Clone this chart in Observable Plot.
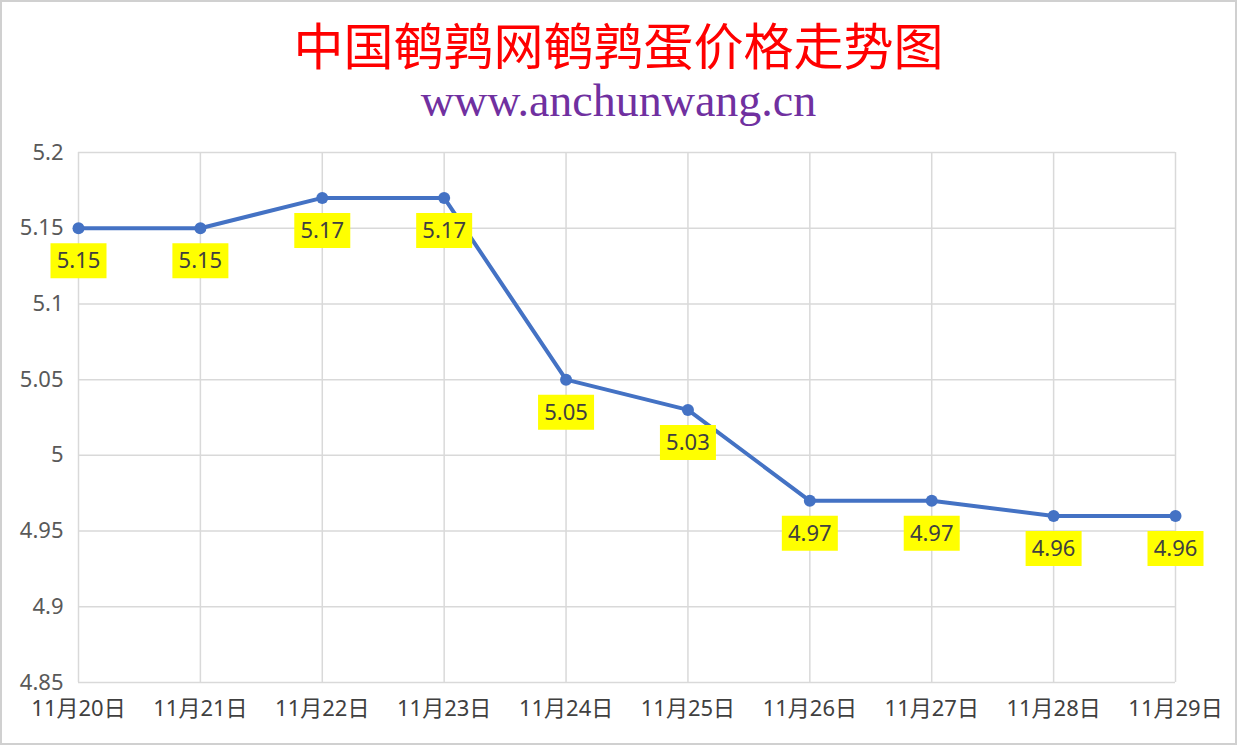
<!DOCTYPE html>
<html><head><meta charset="utf-8">
<script src="https://cdn.jsdelivr.net/npm/d3@7"></script>
<script src="https://cdn.jsdelivr.net/npm/@observablehq/plot@0.6"></script>
<style>
html,body{margin:0;padding:0;background:#fff;}
#wrap{position:relative;width:1237px;height:745px;box-sizing:border-box;border:2px solid #d0d0d0;background:#fff;overflow:hidden;}
#title{position:absolute;left:0;width:100%;top:13px;text-align:center;color:#ff0000;font-family:"Noto Sans CJK SC",serif;font-size:50px;line-height:56px;height:56px;}
#sub{position:absolute;left:0;width:100%;top:75px;text-align:center;color:#7030a0;font-family:"Liberation Serif","DejaVu Serif",serif;font-size:46px;line-height:48px;height:48px;}
#chart{position:absolute;left:-2px;top:124px;width:1237px;}
#chart svg{max-width:none;}
</style></head>
<body>
<div id="wrap">
<div id="title">中国鹌鹑网鹌鹑蛋价格走势图</div>
<div id="sub">www.anchunwang.cn</div>
<div id="chart"></div>
</div>
<script>
const dates = ["11月20日","11月21日","11月22日","11月23日","11月24日","11月25日","11月26日","11月27日","11月28日","11月29日"];
const prices = [5.15, 5.15, 5.17, 5.17, 5.05, 5.03, 4.97, 4.97, 4.96, 4.96];
const yTicks = [4.85, 4.9, 4.95, 5, 5.05, 5.1, 5.15, 5.2];

const data = dates.map((d, i) => ({date: d, price: prices[i]}));

const boxSymbol = {
  draw(context) {
    context.rect(-28, 15, 56, 35);
  }
};

const plot = Plot.plot({
  width: 1237,
  height: 620,
  marginLeft: 78,
  marginRight: 62,
  marginTop: 26,
  marginBottom: 64,
  style: {fontFamily: "'Noto Sans', 'Noto Sans CJK SC', sans-serif", fontSize: "22px", color: "#595959", background: "transparent", maxWidth: "none"},
  x: {type: "point", domain: dates, padding: 0, round: false, label: null},
  y: {domain: [4.85, 5.2], label: null},
  marks: [
    Plot.gridY(yTicks, {stroke: "#d9d9d9", strokeOpacity: 1, strokeWidth: 1.5}),
    Plot.gridX(dates, {stroke: "#d9d9d9", strokeOpacity: 1, strokeWidth: 1.5}),
    Plot.axisY(yTicks, {tickSize: 0, tickPadding: 15, fontSize: 22, fill: "#595959", tickFormat: d => String(+d.toFixed(2))}),
    Plot.axisX(dates, {tickSize: 0, tickPadding: 18, fontSize: 22, fill: "#404040"}),
    Plot.line(data, {x: "date", y: "price", stroke: "#4472c4", strokeWidth: 4}),
    Plot.dot(data, {x: "date", y: "price", fill: "#4472c4", r: 6}),
    Plot.dot(data, {x: "date", y: "price", symbol: boxSymbol, fill: "#ffff00", stroke: "none"}),
    Plot.text(data, {x: "date", y: "price", text: d => d.price.toFixed(2), dy: 33, fontSize: 22, fill: "#404040"})
  ]
});
document.getElementById("chart").appendChild(plot);
</script>
</body></html>
